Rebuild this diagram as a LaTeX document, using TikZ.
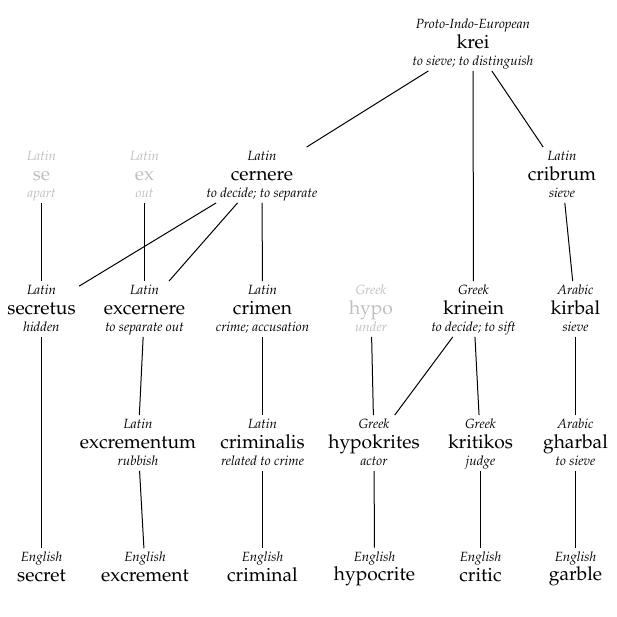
\documentclass[tikz,border=0pt]{standalone}
\usepackage[T1]{fontenc}
\usepackage{mathpazo}
\usepackage{tikz}
\usepackage{xcolor}
\tikzset{word/.style={align=center, inner xsep=2.5pt, inner ysep=1pt,
   font=\fontsize{10}{14}\selectfont},
 faded/.style={text=gray!50},
 link/.style={draw, line width=0.75pt},
 }
\newcommand{\wordtext}[3]{\rule{0pt}{9pt}\textit{#1}\\[0.5pt]{\Large #2}\\[-1pt]\textit{#3}\rule[-3pt]{0pt}{3pt}}
\newcommand{\wordend}[2]{\rule{0pt}{9pt}\textit{#1}\\[0.5pt]{\Large #2}\rule[-3pt]{0pt}{3pt}}

\begin{document}
\begin{tikzpicture}[x=0.75pt, y=-0.75pt]
        \useasboundingbox (0, 0) rectangle (617, 617);

        \node[word] (krei) at (473, 43) {\wordtext{Proto-Indo-European}{krei}{to sieve; to distinguish}};

        \node[word, faded] (se) at (41.5, 175) {\wordtext{Latin}{se}{apart}};
        \node[word, faded] (ex) at (144.5, 175) {\wordtext{Latin}{ex}{out}};
        \node[word] (cernere) at (262, 175) {\wordtext{Latin}{cernere}{to decide; to separate}};
        \node[word] (cribrum) at (562, 175) {\wordtext{Latin}{cribrum}{sieve}};

        \node[word] (secretus) at (41.5, 309) {\wordtext{Latin}{secretus}{hidden}};
        \node[word] (excernere) at (144.5, 309) {\wordtext{Latin}{excernere}{to separate out}};
        \node[word] (crimen) at (262.5, 309) {\wordtext{Latin}{crimen}{crime; accusation}};
        \node[word, faded] (hypo) at (371, 309) {\wordtext{Greek}{hypo}{under}};
        \node[word] (krinein) at (473.5, 309) {\wordtext{Greek}{krinein}{to decide; to sift}};
        \node[word] (kirbal) at (575.5, 309) {\wordtext{Arabic}{kirbal}{sieve}};

        \node[word] (excrementum) at (138, 443) {\wordtext{Latin}{excrementum}{rubbish}};
        \node[word] (criminalis) at (262.5, 443) {\wordtext{Latin}{criminalis}{related to crime}};
        \node[word] (hypokrites) at (374, 443) {\wordtext{Greek}{hypokrites}{actor}};
        \node[word] (kritikos) at (480.5, 443) {\wordtext{Greek}{kritikos}{judge}};
        \node[word] (gharbal) at (575.5, 443) {\wordtext{Arabic}{gharbal}{to sieve}};

        \node[word] (secret) at (41.5, 567.5) {\wordend{English}{secret}};
        \node[word] (excrement) at (145, 567.5) {\wordend{English}{excrement}};
        \node[word] (criminal) at (262.5, 567.5) {\wordend{English}{criminal}};
        \node[word] (hypocrite) at (374.5, 567.5) {\wordend{English}{hypocrite}};
        \node[word] (critic) at (480.5, 567.5) {\wordend{English}{critic}};
        \node[word] (garble) at (575.5, 567.5) {\wordend{English}{garble}};

        \draw[link] (krei) -- (cernere);
        \draw[link] (krei) -- (krinein);
        \draw[link] (krei) -- (cribrum);

        \draw[link] (se) -- (secretus);
        \draw[link] (ex) -- (excernere);
        \draw[link] (cernere) -- (secretus);
        \draw[link] (cernere) -- (excernere);
        \draw[link] (cernere) -- (crimen);
        \draw[link] (cribrum) -- (kirbal);

        \draw[link] (secretus) -- (secret);
        \draw[link] (excernere) -- (excrementum);
        \draw[link] (crimen) -- (criminalis);
        \draw[link] (hypo) -- (hypokrites);
        \draw[link] (krinein) -- (hypokrites);
        \draw[link] (krinein) -- (kritikos);
        \draw[link] (kirbal) -- (gharbal);

        \draw[link] (excrementum) -- (excrement);
        \draw[link] (criminalis) -- (criminal);
        \draw[link] (hypokrites) -- (hypocrite);
        \draw[link] (kritikos) -- (critic);
        \draw[link] (gharbal) -- (garble);
    \end{tikzpicture}
\end{document}
